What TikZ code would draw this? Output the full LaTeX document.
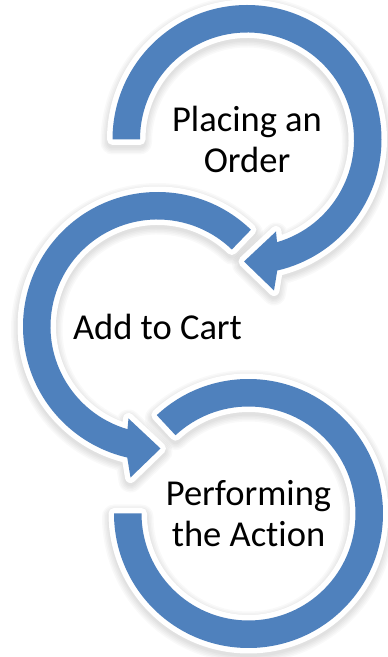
\documentclass[tikz,border=0pt]{standalone}
\usepackage{fontspec}
\setmainfont{Carlito}[Ligatures=NoCommon]
\definecolor{accblue}{RGB}{79,129,189}
\pgfdeclarelayer{shadowlayer}
\pgfdeclarelayer{outlinelayer}
\pgfsetlayers{shadowlayer,outlinelayer,main}
\newcommand\arrowshape[2]{%
  \begin{pgfonlayer}{shadowlayer}
    \foreach \w in {24,21,18,15,12}{%
      \path[draw=black,draw opacity=0.025,fill=black,fill opacity=0.025,line width=\w pt,line join=round,yshift=-3pt,#1] #2;}
  \end{pgfonlayer}
  \begin{pgfonlayer}{outlinelayer}
    \path[draw=white,fill=white,line width=11pt,line join=round,#1] #2;
  \end{pgfonlayer}
  \path[fill=accblue,#1] #2;
}
\tikzset{lbl/.style={font=\fontsize{36.5}{41}\selectfont, align=center, inner sep=0pt, text=black}}
\begin{document}
\begin{tikzpicture}[x=1pt,y=1pt]
\useasboundingbox (0,0) rectangle (388,657);
\begin{pgfonlayer}{shadowlayer}
\fill[white] (0,0) rectangle (388,657);
\end{pgfonlayer}
% arrow 1: Placing an Order
\arrowshape{shift={(247,517.5)}}{(180:134.5) arc[start angle=180, end angle=-77, radius=134.5] -- (27,-151) -- (-3,-122) -- (29,-92) -- (-73.7:107) arc[start angle=-73.7, end angle=180, radius=107] -- cycle}
% arrow 2: Add to Cart
\arrowshape{shift={(157.5,330.5)}}{(46:134.5) arc[start angle=46, end angle=257, radius=134.5] -- (-27,-151) -- (3,-122) -- (-29,-92) -- (253.7:107) arc[start angle=253.7, end angle=46, radius=107] -- cycle}
% arrow 3: Performing the Action
\arrowshape{shift={(248.5,143.5)}}{(133:134.5) arc[start angle=133, end angle=-180, radius=134.5] -- (-180:107) arc[start angle=-180, end angle=133, radius=107] -- cycle}
\node[lbl] (order) at (247,517.5) {Placing an\\Order};
\node[lbl] (cart) at (157.5,330.5) {Add to Cart};
\node[lbl] (action) at (248.5,143.5) {Performing\\the Action};
\end{tikzpicture}
\end{document}
